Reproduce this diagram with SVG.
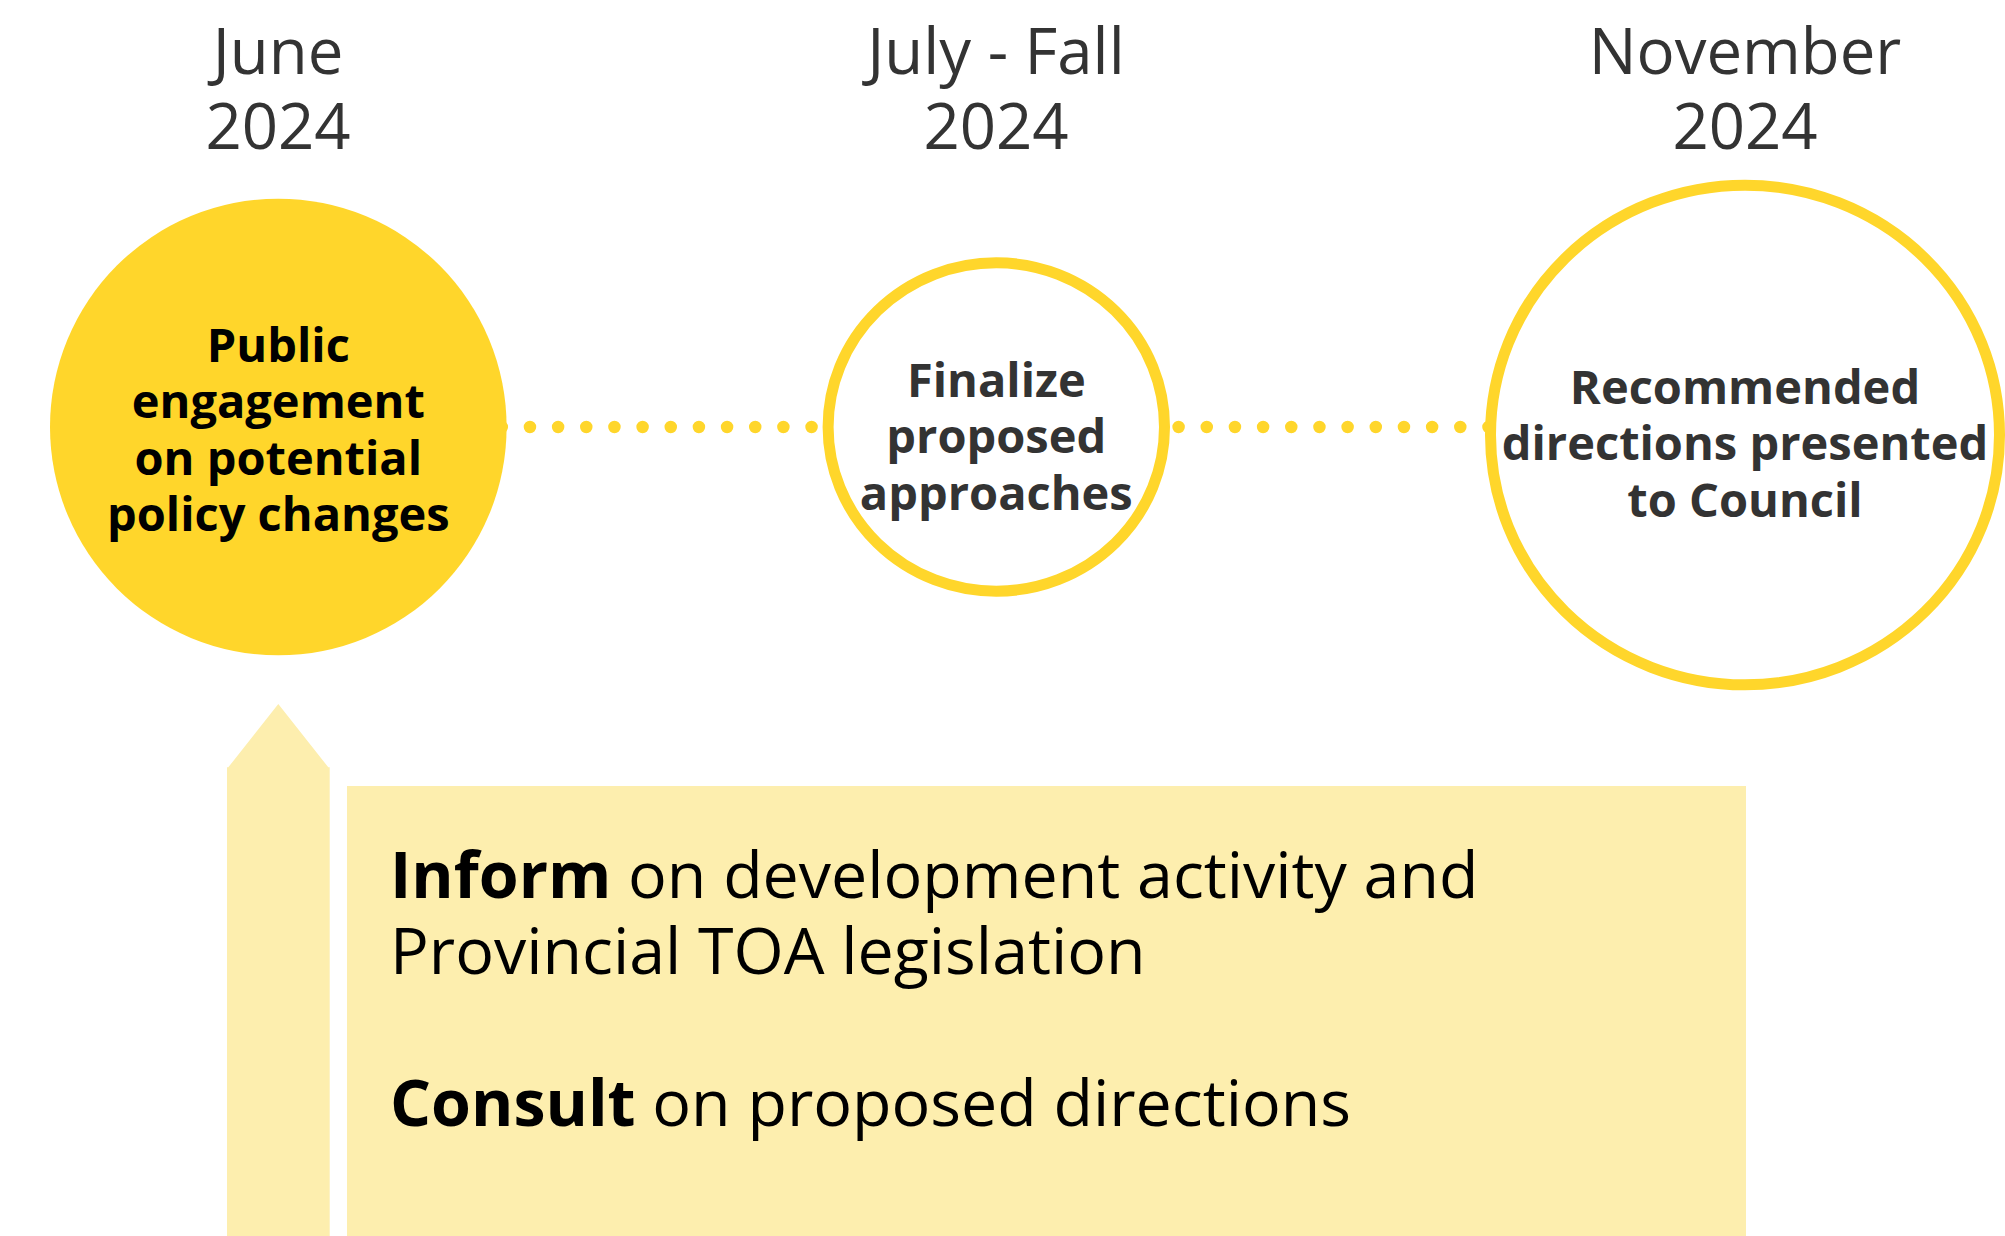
<svg xmlns="http://www.w3.org/2000/svg" width="2005" height="1236" viewBox="0 0 2005 1236">
  <style>
    .date { font-family: "Open Sans", "Noto Sans", sans-serif; font-size: 63.5px; fill: #333333; text-anchor: middle; }
    .label { font-family: "Open Sans", "Noto Sans", sans-serif; font-weight: 700; font-size: 47px; text-anchor: middle; }
    .dark { fill: #333333; }
    .black { fill: #000000; }
    .ring { fill: #ffffff; stroke: #FFD62B; stroke-width: 11; }
    .dots { fill: none; stroke: #FFD62B; stroke-width: 12.5; stroke-linecap: round; }
    .band { fill: #FDEEAE; }
    .body { font-family: "Open Sans", "Noto Sans", sans-serif; font-size: 64.5px; fill: #000000; }
    .strong { font-weight: 700; }
  </style>

  <rect width="2005" height="1236" fill="#ffffff"/>

  <!-- dotted timeline links -->
  <g id="connectors">
    <line class="dots" x1="501.8" y1="427" x2="811.6" y2="427" stroke-dasharray="0 28.16"/>
    <line class="dots" x1="1178.6" y1="427" x2="1488.5" y2="427" stroke-dasharray="0 28.17"/>
  </g>

  <!-- milestone 1 -->
  <g id="node-june">
    <text class="date" x="278" y="74">June</text>
    <text class="date" x="278" y="149">2024</text>
    <circle cx="278.3" cy="427" r="228.3" fill="#FFD62B"/>
    <text class="label black" x="278.3" y="361.6">Public</text>
    <text class="label black" x="278.3" y="418">engagement</text>
    <text class="label black" x="278.3" y="474.5">on potential</text>
    <text class="label black" x="278.3" y="531">policy changes</text>
  </g>

  <!-- milestone 2 -->
  <g id="node-july-fall">
    <text class="date" x="996" y="74">July - Fall</text>
    <text class="date" x="996" y="149">2024</text>
    <ellipse class="ring" cx="996.3" cy="427" rx="168.2" ry="164.2"/>
    <text class="label dark" x="996.3" y="396.7">Finalize</text>
    <text class="label dark" x="996.3" y="453.3">proposed</text>
    <text class="label dark" x="996.3" y="510">approaches</text>
  </g>

  <!-- milestone 3 -->
  <g id="node-november">
    <text class="date" x="1745" y="74">November</text>
    <text class="date" x="1745" y="149">2024</text>
    <ellipse class="ring" cx="1745" cy="435" rx="254.5" ry="249.8"/>
    <text class="label dark" x="1745" y="404.3">Recommended</text>
    <text class="label dark" x="1745" y="460.4">directions presented</text>
    <text class="label dark" x="1745" y="516.5">to Council</text>
  </g>

  <!-- engagement period: upward arrow and note panel -->
  <g id="engagement-arrow">
    <polygon class="band" points="227,1236 227,767.3 228.3,767.3 278.3,704 328.3,767.3 329.7,767.3 329.7,1236"/>
  </g>
  <g id="engagement-note">
    <rect class="band" x="347" y="786" width="1399" height="450"/>
    <text class="body" x="390" y="898"><tspan class="strong">Inform</tspan> on development activity and</text>
    <text class="body" x="390" y="974">Provincial TOA legislation</text>
    <text class="body" x="390" y="1126"><tspan class="strong">Consult</tspan> on proposed directions</text>
  </g>
</svg>
